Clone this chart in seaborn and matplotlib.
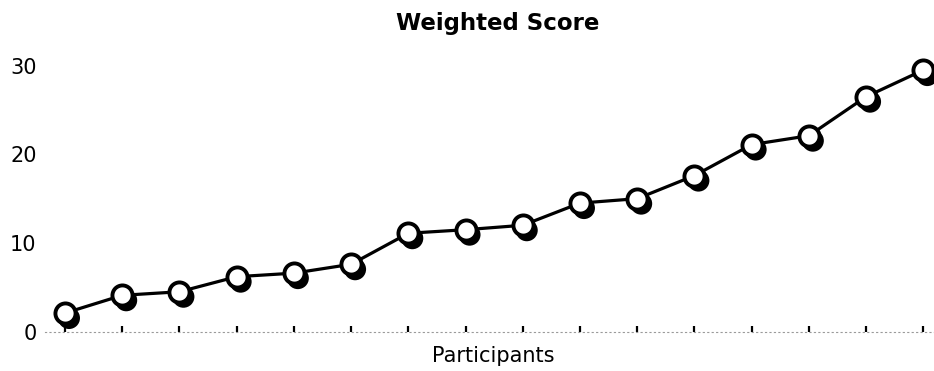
import numpy as np
import pandas as pd
import matplotlib
matplotlib.use("Agg")
import matplotlib.pyplot as plt
import matplotlib.transforms as mtransforms
import seaborn as sns

# Weighted score per participant, sorted ascending
participants = list(range(1, 17))
scores = [2.1, 4.1, 4.5, 6.2, 6.6, 7.6, 11.1, 11.5, 12.0, 14.5, 15.0, 17.6, 21.1, 22.1, 26.5, 29.5]
y_ticks = [0, 10, 20, 30]
title = "Weighted Score"
x_label = "Participants"

df = pd.DataFrame({"participant": participants, "score": scores})

sns.set_theme(style="white")
plt.rcParams["font.family"] = ["DejaVu Sans"]

W, H, DPI = 934, 371, 100
fig = plt.figure(figsize=(W / DPI, H / DPI), dpi=DPI)

# axes placement in pixels
left_px, right_px = 45, 934
bottom_px, top_px = 34.9, 320.4
ax = fig.add_axes([left_px / W, bottom_px / H, (right_px - left_px) / W, (top_px - bottom_px) / H])

# x: participant 1 sits at 65 px, 57.22 px per participant
px_per_x = 57.22
x0_px = 65
ax.set_xlim(1 + (left_px - x0_px) / px_per_x, 1 + (right_px - x0_px) / px_per_x)
ax.set_ylim(-0.5, 31.7)

# drop shadow under each marker
shadow = mtransforms.offset_copy(ax.transData, fig=fig, x=4, y=-5, units="dots")
sns.scatterplot(data=df, x="participant", y="score", ax=ax, s=250, color="black",
                edgecolor="none", linewidth=0, transform=shadow, zorder=2,
                clip_on=False, legend=False)

# connecting line with hollow markers
sns.lineplot(data=df, x="participant", y="score", ax=ax, color="black", linewidth=2.3,
             marker="o", markersize=14.5, markerfacecolor="white", markeredgecolor="black",
             markeredgewidth=2.8, zorder=3, clip_on=False, legend=False)

ax.set_yticks(y_ticks)
ax.set_yticklabels([str(t) for t in y_ticks])
ax.set_xticks(participants)
ax.set_xticklabels([])

for side in ["top", "right", "left"]:
    ax.spines[side].set_visible(False)
ax.spines["bottom"].set_position(("data", 0))
ax.spines["bottom"].set_linestyle((0, (1, 3)))
ax.spines["bottom"].set_color("#9a9a9a")
ax.spines["bottom"].set_linewidth(0.8)

ax.tick_params(axis="y", length=0, pad=6, labelsize=15, labelcolor="black")
ax.tick_params(axis="x", direction="in", length=4, width=1.6, color="black", bottom=True)

ax.set_xlabel("")
ax.set_ylabel("")
fig.text(493 / W, 1 - 356 / H, x_label, ha="center", va="center", fontsize=15, color="black")
ax.set_title(title, x=(498 - left_px) / (right_px - left_px), y=(H - 30 - bottom_px) / (top_px - bottom_px),
             pad=0, fontsize=16.5, fontweight="bold", color="black", va="baseline")

ax.grid(False)
fig.savefig("out.png", dpi=DPI, facecolor="white")
